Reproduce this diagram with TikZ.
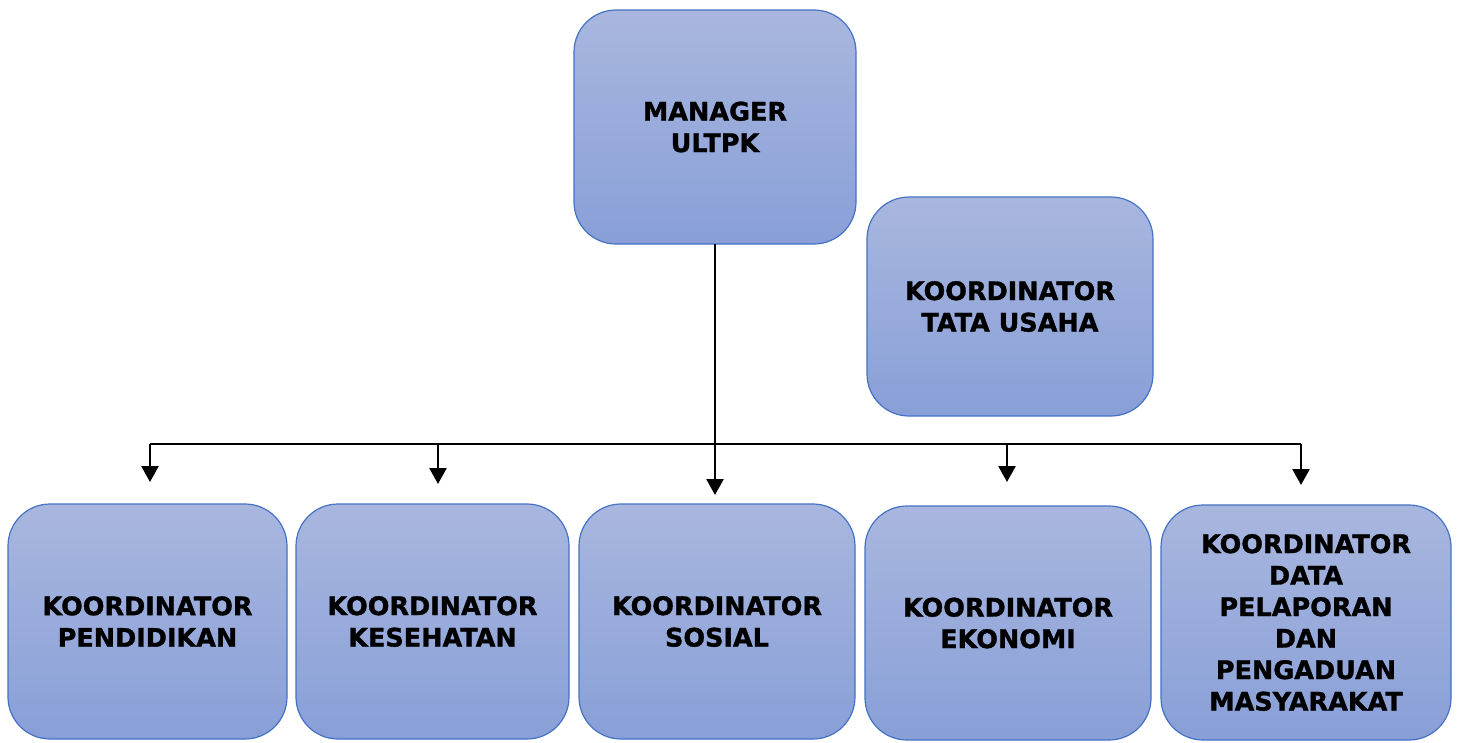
\documentclass[tikz,border=0pt]{standalone}
\usepackage{fontspec}
\setmainfont{DejaVu Sans}[BoldFeatures={FakeBold=1.2}]
\usetikzlibrary{arrows.meta}
\begin{document}
\begin{tikzpicture}[x=1pt,y=-1pt,
  orgbox/.style={draw=boxborder, line width=1.2pt, rounded corners=42pt,
    top color=boxtop, bottom color=boxbottom, inner sep=0pt, outer sep=0pt,
    align=center, font=\fontsize{25.5}{31.5}\selectfont\bfseries, text=black},
  conn/.style={line width=2.6pt, -{Triangle[width=17pt,length=16pt]}},
  hline/.style={line width=1.6pt}]
\definecolor{boxborder}{HTML}{4472C4}
\definecolor{boxtop}{HTML}{A9B7DF}
\definecolor{boxbottom}{HTML}{889FD7}
\useasboundingbox (0,0) rectangle (1459,742);
% boxes
\node[orgbox, minimum width=282pt, minimum height=234pt] (mgr) at (715,127) {MANAGER\\ULTPK};
\node[orgbox, minimum width=286pt, minimum height=219pt] (tu) at (1010,306.5) {KOORDINATOR\\TATA USAHA};
\node[orgbox, minimum width=279pt, minimum height=235pt] (pend) at (147.5,621.5) {KOORDINATOR\\PENDIDIKAN};
\node[orgbox, minimum width=273pt, minimum height=235pt] (kes) at (432.5,621.5) {KOORDINATOR\\KESEHATAN};
\node[orgbox, minimum width=276pt, minimum height=235pt] (sos) at (717,621.5) {KOORDINATOR\\SOSIAL};
\node[orgbox, minimum width=286pt, minimum height=234pt] (eko) at (1008,623) {KOORDINATOR\\EKONOMI};
\node[orgbox, minimum width=290pt, minimum height=235pt] (data) at (1306,622.5) {KOORDINATOR\\DATA\\PELAPORAN\\DAN\\PENGADUAN\\MASYARAKAT};
% branch coordinates
\coordinate (hl) at (150,444);
\coordinate (h2) at (438,444);
\coordinate (h4) at (1007,444);
\coordinate (hr) at (1301,444);
\coordinate (t1) at (150,482);
\coordinate (t2) at (438,484);
\coordinate (t4) at (1007,482);
\coordinate (t5) at (1301,485);
\coordinate (t3) at (715,495);
% connectors
\draw[hline] (hl) -- (hr);
\draw[conn] (mgr.south -| t3) -- (t3);
\draw[conn] (hl) -- (t1);
\draw[conn] (h2) -- (t2);
\draw[conn] (h4) -- (t4);
\draw[conn] (hr) -- (t5);
\end{tikzpicture}
\end{document}
